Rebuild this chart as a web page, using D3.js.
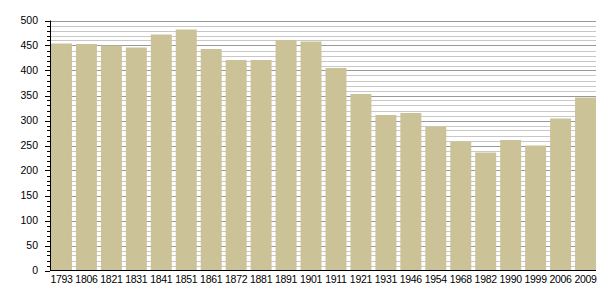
<!DOCTYPE html>
<html>
<head>
<meta charset="utf-8">
<script src="https://cdn.jsdelivr.net/npm/d3@7"></script>
<style>
  body { margin: 0; background: #fff; }
  text { font-family: "Liberation Sans", Arial, sans-serif; font-size: 10.5px; fill: #000; }
</style>
</head>
<body>
<div class="chart"></div>
<script>
// population par recensement
const years = ["1793", "1806", "1821", "1831", "1841", "1851", "1861", "1872", "1881", "1891", "1901",
  "1911", "1921", "1931", "1946", "1954", "1968", "1982", "1990", "1999", "2006", "2009"];
const population = [454, 453, 450, 446, 472, 482, 443, 421, 421, 461, 458,
  405, 353, 311, 315, 288, 258, 236, 261, 250, 304, 346];
const yTicks = [0, 50, 100, 150, 200, 250, 300, 350, 400, 450, 500];

const width = 605, height = 300;
const plotLeft = 50, plotRight = 596, plotTop = 20.5, plotBottom = 270.5;

const svg = d3.select('.chart').append('svg')
  .attr('width', width).attr('height', height);

const x = d3.scaleBand()
  .domain(years)
  .range([plotLeft + 1, plotRight])
  .paddingInner(0.16)
  .paddingOuter(0);

const y = d3.scaleLinear()
  .domain([0, 500])
  .range([plotBottom, plotTop]);

// grille : fine tous les 10, plus foncée tous les 50
const minor = d3.range(10, 501, 10);
svg.append('g').selectAll('line')
  .data(minor)
  .enter().append('line')
  .attr('x1', plotLeft).attr('x2', plotRight)
  .attr('y1', d => Math.round(y(d)) + 0.5)
  .attr('y2', d => Math.round(y(d)) + 0.5)
  .attr('stroke', d => d % 50 === 0 ? '#999999' : '#c8c8c8')
  .attr('stroke-width', 1);

// barres
svg.append('g').selectAll('rect')
  .data(years)
  .enter().append('rect')
  .attr('x', d => x(d))
  .attr('width', x.bandwidth())
  .attr('y', (d, i) => y(population[i]))
  .attr('height', (d, i) => y(0) - y(population[i]))
  .attr('fill', '#cbc298');

// axe y
const yAxis = svg.append('g');
yAxis.append('line')
  .attr('x1', plotLeft + 0.5).attr('x2', plotLeft + 0.5)
  .attr('y1', plotTop).attr('y2', plotBottom)
  .attr('stroke', '#000');
yAxis.selectAll('.tick')
  .data(d3.range(0, 501, 10))
  .enter().append('line')
  .attr('x1', d => d % 50 === 0 ? plotLeft - 5 : plotLeft - 3)
  .attr('x2', plotLeft)
  .attr('y1', d => Math.round(y(d)) + 0.5)
  .attr('y2', d => Math.round(y(d)) + 0.5)
  .attr('stroke', '#000');
yAxis.selectAll('text')
  .data(yTicks)
  .enter().append('text')
  .attr('x', plotLeft - 12)
  .attr('y', d => y(d))
  .attr('dy', '0.35em')
  .attr('text-anchor', 'end')
  .text(d => d);

// axe x
svg.append('line')
  .attr('x1', plotLeft).attr('x2', plotRight)
  .attr('y1', plotBottom).attr('y2', plotBottom)
  .attr('stroke', '#000');
svg.append('g').selectAll('text')
  .data(years)
  .enter().append('text')
  .attr('x', d => x(d) + x.bandwidth() / 2)
  .attr('y', 282.5)
  .attr('text-anchor', 'middle')
  .attr('letter-spacing', '-0.3px')
  .text(d => d);
</script>
</body>
</html>
